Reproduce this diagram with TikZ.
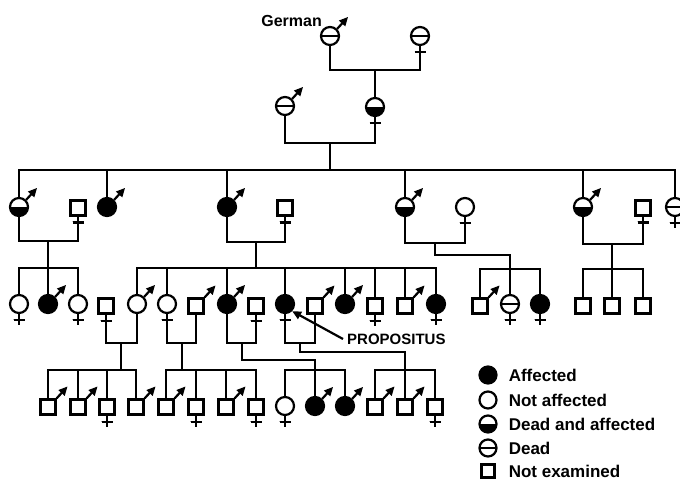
\documentclass[tikz,border=0pt]{standalone}
\usepackage{fontspec}
\setmainfont{Liberation Sans}
\usetikzlibrary{positioning,arrows.meta,calc}
\newcommand{\msign}[1]{\draw[link,-{Triangle[length=9pt,width=8pt]}] (#1.north east) -- ++(11,-12);}
\newcommand{\fsign}[1]{\draw[link] (#1.south) -- ++(0,11) coordinate (#1x);
  \draw[link] ($(#1.south)+(-5.5,6)$) -- ++(11,0);}

\begin{document}
\begin{tikzpicture}[x=1pt,y=-1pt,
  pers/.style={draw,line width=2.2pt,inner sep=0pt},
  na/.style={pers,circle,minimum size=18pt},
  aff/.style={na,fill=black},
  dead/.style={na,path picture={\draw[line width=2.2pt] (path picture bounding box.west) -- (path picture bounding box.east);}},
  deadaff/.style={na,path picture={\fill (path picture bounding box.west) rectangle (path picture bounding box.south east);}},
  ne/.style={pers,rectangle,minimum size=15pt},
  link/.style={line width=2.2pt},
  keysym/.style={minimum size=17pt},
  lbl/.style={inner sep=0pt,text height=12pt,text depth=0pt,font=\bfseries\fontsize{17}{17}\selectfont}]
\useasboundingbox (0,0) rectangle (680,481);
\node[dead] (I1) at (330,36) {};
\node[dead] (I2) at (420,36) {};
\msign{I1}\fsign{I2}
\node[inner sep=0pt,anchor=east,font=\bfseries\fontsize{16}{16}\selectfont] (german) at (322,21) {German};
\coordinate (mI) at (375,70);
\node[dead] (II1) at (285,106) {};
\node[deadaff] (II2) at (375,107) {};
\msign{II1}\fsign{II2}
\draw[link] (I1.south) |- (mI) -| (I2x);
\draw[link] (mI) -- (II2.north);
\coordinate (mII) at (330,143);
\coordinate (sII) at (330,170);
\draw[link] (II1.south) |- (mII) -| (II2x);
\draw[link] (mII) -- (sII);
\node[deadaff] (III1) at (19,207) {};
\node[ne] (IIIa) at (78,208) {};
\node[aff] (III2) at (107,207) {};
\node[aff] (III3) at (227,207) {};
\node[ne] (IIIb) at (285,208) {};
\node[deadaff] (III4) at (405,207) {};
\node[na] (IIIc) at (465,207) {};
\node[deadaff] (III5) at (583,207) {};
\node[ne] (IIId) at (643,208) {};
\node[dead] (III6) at (675,207) {};
\foreach \p in {III1,III2,III3,III4,III5}\msign{\p}
\foreach \p in {IIIa,IIIb,IIIc,IIId,III6}\fsign{\p}
\foreach \c in {III1,III2,III3,III4,III5,III6}\draw[link] (sII) -| (\c.north);
\coordinate (m1) at (48,241);
\coordinate (s1) at (48,268);
\coordinate (m2) at (256,242);
\coordinate (s2) at (256,268);
\coordinate (m3) at (435,243);
\coordinate (s3) at (510,269);
\coordinate (m4) at (612,244);
\coordinate (s4) at (612,269);
\draw[link] (III1.south) |- (m1) -| (IIIax);
\draw[link] (III3.south) |- (m2) -| (IIIbx);
\draw[link] (III4.south) |- (m3) -| (IIIcx);
\draw[link] (III5.south) |- (m4) -| (IIIdx);
\draw[link] (m1) -- (s1);
\draw[link] (m2) -- (s2);
\draw[link] (m3) -- ++(0,12) -| (s3);
\draw[link] (m4) -- (s4);
\node[na] (IV1) at (19,304) {};
\node[aff] (IV2) at (48,304) {};
\node[na] (IV3) at (78,304) {};
\node[ne] (IVa) at (106,306) {};
\node[na] (IV4) at (137,304) {};
\node[na] (IV5) at (167,304) {};
\node[ne] (IVb) at (196,306) {};
\node[aff] (IV6) at (227,304) {};
\node[ne] (IVc) at (256,306) {};
\node[aff] (IV7) at (285,304) {};
\node[ne] (IVd) at (315,306) {};
\node[aff] (IV8) at (345,304) {};
\node[ne] (IV9) at (375,306) {};
\node[ne] (IV10) at (405,306) {};
\node[aff] (IV11) at (436,304) {};
\node[ne] (IV12) at (480,306) {};
\node[dead] (IV13) at (510,304) {};
\node[aff] (IV14) at (540,304) {};
\node[ne] (IV15) at (583,306) {};
\node[ne] (IV16) at (612,306) {};
\node[ne] (IV17) at (643,306) {};
\foreach \p in {IV2,IV4,IVb,IV6,IVd,IV8,IV10,IV12}\msign{\p}
\foreach \p in {IV1,IV3,IVa,IV5,IVc,IV7,IV9,IV11,IV13,IV14}\fsign{\p}
\foreach \c in {IV1,IV2,IV3}\draw[link] (s1) -| (\c.north);
\foreach \c in {IV4,IV5,IV6,IV7,IV8,IV9,IV10,IV11}\draw[link] (s2) -| (\c.north);
\foreach \c in {IV12,IV13,IV14}\draw[link] (s3) -| (\c.north);
\foreach \c in {IV15,IV16,IV17}\draw[link] (s4) -| (\c.north);
\node[lbl,inner sep=0pt,font=\bfseries\fontsize{15}{15}\selectfont,text height=11pt,anchor=west] (prop) at (347,339) {PROPOSITUS};
\draw[link,-{Triangle[length=9pt,width=8pt]}] ([xshift=-4pt]prop.west) -- (IV7.south east);
\coordinate (mA) at (121,343);
\coordinate (sA) at (121,370);
\coordinate (mB) at (182,343);
\coordinate (sB) at (182,370);
\coordinate (mC) at (242,343);
\coordinate (sC) at (315,370);
\coordinate (mD) at (300,343);
\coordinate (sD) at (405,370);
\draw[link] (IV4.south) |- (mA) -| (IVax);
\draw[link] (IVb.south) |- (mB) -| (IV5x);
\draw[link] (IV6.south) |- (mC) -| (IVcx);
\draw[link] (IVd.south) |- (mD) -| (IV7x);
\draw[link] (mA) -- (sA);
\draw[link] (mB) -- (sB);
\draw[link] (mC) -- ++(0,17) -| (sC);
\draw[link] (mD) -- ++(0,9) -| (sD);
\node[ne] (V1) at (48,407) {};
\node[ne] (V2) at (78,407) {};
\node[ne] (V3) at (107,407) {};
\node[ne] (V4) at (136,407) {};
\node[ne] (V5) at (166,407) {};
\node[ne] (V6) at (196,407) {};
\node[ne] (V7) at (226,407) {};
\node[ne] (V8) at (256,407) {};
\node[na] (V9) at (285,406) {};
\node[aff] (V10) at (315,406) {};
\node[aff] (V11) at (345,406) {};
\node[ne] (V12) at (375,407) {};
\node[ne] (V13) at (405,407) {};
\node[ne] (V14) at (435,407) {};
\foreach \p in {V1,V2,V4,V5,V7,V10,V11,V12,V13}\msign{\p}
\foreach \p in {V3,V6,V8,V9,V14}\fsign{\p}
\foreach \c in {V1,V2,V3,V4}\draw[link] (sA) -| (\c.north);
\foreach \c in {V5,V6,V7,V8}\draw[link] (sB) -| (\c.north);
\foreach \c in {V9,V10,V11}\draw[link] (sC) -| (\c.north);
\foreach \c in {V12,V13,V14}\draw[link] (sD) -| (\c.north);
\node[aff,keysym] (kA) at (488,375) {};
\node[na,keysym] (kN) at (488,400) {};
\node[deadaff,keysym] (kDA) at (488,424) {};
\node[dead,keysym] (kD) at (488,448) {};
\node[ne,minimum size=13pt] (kNE) at (488,471) {};
\node[lbl,right=11pt of kA] (tA) {Affected};
\node[lbl,right=11pt of kN] (tN) {Not affected};
\node[lbl,right=11pt of kDA] (tDA) {Dead and affected};
\node[lbl,right=11pt of kD] (tD) {Dead};
\node[lbl,right=13pt of kNE] (tNE) {Not examined};
\end{tikzpicture}
\end{document}
